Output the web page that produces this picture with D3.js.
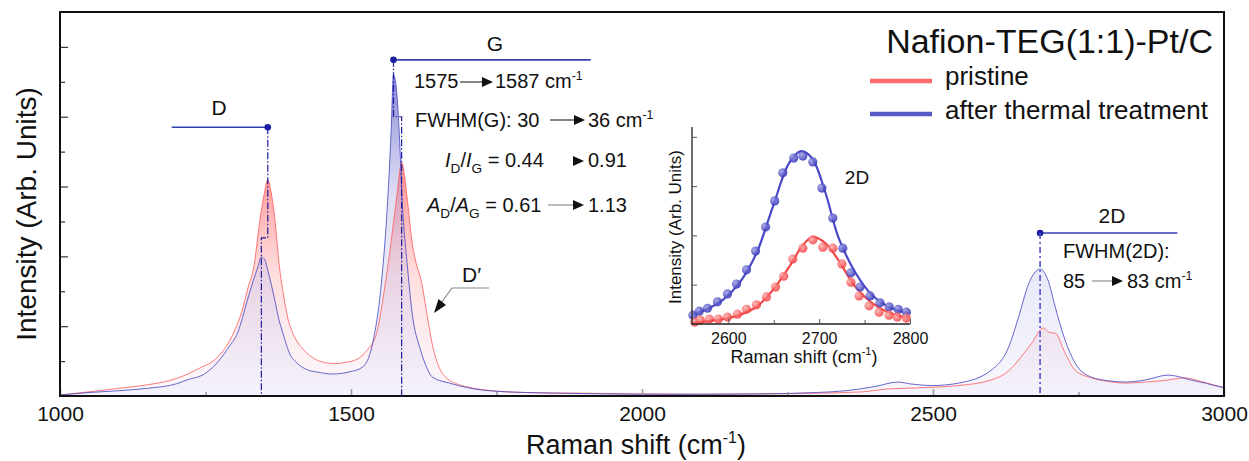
<!DOCTYPE html>
<html><head><meta charset="utf-8">
<script src="https://cdn.jsdelivr.net/npm/d3@7"></script>
<style>
body{margin:0;background:#fff}
text{font-family:"Liberation Sans",Arial,sans-serif;fill:#111}
</style></head>
<body><svg id="c" width="1249" height="461"></svg>
<script>
// ---------- DATA ----------
const pristineX = [1000,1050,1100,1150,1200,1240,1270,1295,1312,1323,1333,1344,1351,1357,1362,1369,1377,1384,1391,1400,1408,1420,1434,1458,1475,1492,1510,1527,1544,1557,1564,1571,1580,1587,1592,1597,1605,1612,1620,1630,1640,1652,1665,1680,1700,1750,1800,1900,2000,2100,2200,2300,2380,2420,2450,2500,2544,2600,2630,2647,2669,2690,2700,2710,2727,2744,2772,2800,2830,2865,2900,2933,2960,2995,3000];
const pristineY = [0.03,0.12,0.22,0.32,0.5,0.8,1.1,1.7,2.4,3.1,3.7,5.1,5.8,6.2,5.9,5.1,3.7,2.9,2.26,1.8,1.55,1.3,1.1,0.95,0.93,0.97,1.05,1.3,1.8,3.0,3.8,4.7,5.9,6.7,6.3,5.6,4.4,3.8,3.35,2.4,1.45,0.8,0.5,0.36,0.26,0.14,0.1,0.08,0.06,0.05,0.06,0.08,0.12,0.2,0.22,0.25,0.3,0.46,0.72,1.03,1.5,1.95,1.82,1.8,1.23,0.74,0.52,0.42,0.37,0.4,0.45,0.52,0.42,0.26,0.24];
const treatedX = [1000,1050,1100,1150,1200,1218,1250,1274,1290,1305,1322,1332,1340,1346,1352,1357,1363,1369,1376,1383,1395,1407,1425,1441,1468,1497,1520,1537,1552,1563,1569,1573,1578,1583,1588,1597,1606,1618,1628,1640,1669,1700,1726,1800,1900,2000,2100,2200,2300,2350,2400,2440,2460,2500,2544,2600,2630,2647,2664,2684,2698,2710,2727,2744,2772,2800,2830,2865,2904,2943,2970,2995,3000];
const treatedY = [0.03,0.1,0.15,0.22,0.35,0.46,0.65,1.03,1.4,1.8,2.75,3.3,3.7,3.98,3.9,3.6,3.2,2.75,2.2,1.8,1.2,0.95,0.75,0.69,0.63,0.69,0.83,1.5,3.2,5.6,7.6,9.2,8.8,7.5,5.6,3.7,2.26,1.4,0.9,0.54,0.37,0.24,0.17,0.1,0.07,0.05,0.05,0.06,0.1,0.15,0.27,0.4,0.35,0.3,0.37,0.74,1.4,2.26,3.2,3.64,3.3,2.55,1.6,0.95,0.54,0.44,0.4,0.46,0.6,0.46,0.36,0.26,0.25];

const xTicks = [1000,1500,2000,2500,3000];
const xMinorTicks = [1250,1750,2250,2750];
const yTicks = [2,4,6,8,10];
const yMinorTicks = [1,3,5,7,9];

// inset (2D band)
const insetTreatedPtsX = [2561,2568,2577,2588,2599,2609,2620,2630,2641,2651,2660,2672,2682,2693,2703,2715,2726,2735,2745,2756,2767,2777,2787,2796];
const insetTreatedPtsY = [0.38,0.46,0.52,0.65,0.81,1.01,1.30,1.68,2.17,2.70,3.27,3.57,3.61,3.49,2.96,2.35,1.74,1.24,0.95,0.77,0.63,0.55,0.50,0.44];
const insetPristinePtsX = [2563,2569,2579,2589,2599,2610,2620,2631,2642,2652,2661,2671,2682,2693,2704,2715,2725,2735,2744,2755,2766,2777,2786,2796];
const insetPristinePtsY = [0.24,0.28,0.30,0.30,0.34,0.40,0.50,0.59,0.75,0.95,1.17,1.52,1.74,1.91,1.76,1.74,1.42,1.05,0.77,0.57,0.44,0.38,0.34,0.32];
const insetTreatedFitX = [2560,2576,2594,2612,2631,2649,2667,2680,2692,2707,2721,2740,2758,2776,2798];
const insetTreatedFitY = [0.40,0.50,0.69,1.03,1.64,2.58,3.47,3.71,3.57,2.86,1.97,1.24,0.79,0.55,0.42];
const insetPristineFitX = [2560,2594,2612,2631,2649,2667,2682,2693,2707,2721,2740,2758,2776,2798];
const insetPristineFitY = [0.22,0.30,0.38,0.55,0.89,1.36,1.80,1.97,1.84,1.50,0.95,0.63,0.44,0.32];
const insetXTicks = [2600,2700,2800];
const insetXMinor = [2650,2750];
const insetYTicks = [1,2,3,4];

const seriesNames = ["pristine","after thermal treatment"];
const legendTitle = "Nafion-TEG(1:1)-Pt/C";

// ---------- CHART ----------
const svg = d3.select("#c");
const x = d3.scaleLinear().domain([1000,3000]).range([60,1224]);
const y = d3.scaleLinear().domain([0,11]).range([396,12]);
const zip = (a,b)=>a.map((v,i)=>[v,b[i]]);
const red = zip(pristineX,pristineY), blue = zip(treatedX,treatedY);
const fmt = d3.format("d");

const defs = svg.append("defs");
defs.append("clipPath").attr("id","plotclip").append("rect")
  .attr("x",60).attr("y",12).attr("width",1164).attr("height",384);
function lg(id,y1,stops){
  const g=defs.append("linearGradient").attr("id",id).attr("gradientUnits","userSpaceOnUse")
    .attr("x1",0).attr("x2",0).attr("y1",y1).attr("y2",y(0));
  stops.forEach(s=>g.append("stop").attr("offset",s[0]).attr("stop-color",s[1]).attr("stop-opacity",s[2]));
}
lg("gRed", y(6.2), [[0,"#ff5c5c",0.62],[0.45,"#ffa0a0",0.35],[1,"#efe6f6",0.25]]);
lg("gBlue", y(9.2), [[0,"#5050c4",0.7],[0.4,"#a0a0e2",0.32],[1,"#e6e4f8",0.3]]);
function rg(id,c0,c1){
  const g=defs.append("radialGradient").attr("id",id).attr("cx","35%").attr("cy","35%").attr("r","65%");
  g.append("stop").attr("offset",0).attr("stop-color",c0);
  g.append("stop").attr("offset",1).attr("stop-color",c1);
}
rg("dBlue","#9c9ce8","#3434b4");
rg("dRed","#ffa8a8","#f03a3a");

const plot = svg.append("g").attr("clip-path","url(#plotclip)");
const area = d3.area().x(d=>x(d[0])).y0(y(0)).y1(d=>y(d[1])).curve(d3.curveMonotoneX);
const line = d3.line().x(d=>x(d[0])).y(d=>y(d[1])).curve(d3.curveMonotoneX);
plot.append("path").attr("d",area(red)).attr("fill","url(#gRed)");
plot.append("path").attr("d",area(blue)).attr("fill","url(#gBlue)");
plot.append("path").attr("d",line(red)).attr("fill","none").attr("stroke","#ff5a5a").attr("stroke-opacity",0.8).attr("stroke-width",1);
plot.append("path").attr("d",line(blue)).attr("fill","none").attr("stroke","#4c4cc4").attr("stroke-opacity",0.85).attr("stroke-width",1);

// axes ticks
const ax = svg.append("g").attr("transform",`translate(0,${y(0)})`)
  .call(d3.axisBottom(x).tickValues(xTicks).tickFormat(fmt).tickSize(-7).tickPadding(10));
ax.select(".domain").remove();
ax.selectAll(".tick line").attr("stroke","#9a9a9a").attr("stroke-width",1.5);
ax.selectAll(".tick text").attr("font-size",21).attr("fill","#111");
const axm = svg.append("g").attr("transform",`translate(0,${y(0)})`)
  .call(d3.axisBottom(x).tickValues(xMinorTicks).tickSize(-4).tickFormat(""));
axm.select(".domain").remove();
axm.selectAll(".tick line").attr("stroke","#9a9a9a").attr("stroke-width",1.5);
const ay = svg.append("g").attr("transform",`translate(${x(1000)},0)`)
  .call(d3.axisLeft(y).tickValues(yTicks).tickSize(-8).tickFormat(""));
ay.select(".domain").remove();
ay.selectAll(".tick line").attr("stroke","#333").attr("stroke-width",1.2);
const aym = svg.append("g").attr("transform",`translate(${x(1000)},0)`)
  .call(d3.axisLeft(y).tickValues(yMinorTicks).tickSize(-5).tickFormat(""));
aym.select(".domain").remove();
aym.selectAll(".tick line").attr("stroke","#333").attr("stroke-width",1.2);

// frame
svg.append("rect").attr("x",x(1000)).attr("y",y(11)).attr("width",x(3000)-x(1000)).attr("height",y(0)-y(11))
  .attr("fill","none").attr("stroke","#111").attr("stroke-width",2);

// axis titles
const xt = svg.append("text").attr("x",636).attr("y",454).attr("text-anchor","middle").attr("font-size",27);
xt.append("tspan").text("Raman shift (cm");
xt.append("tspan").attr("font-size",16).attr("dy",-11).text("-1");
xt.append("tspan").attr("dy",11).text(")");
svg.append("text").attr("transform","translate(36,214) rotate(-90)").attr("text-anchor","middle")
  .attr("font-size",28).text("Intensity (Arb. Units)");

// ---------- annotations ----------
const navy="#1c1ca0";
function marker(px1,px2,val,dotAt){
  svg.append("line").attr("x1",x(px1)).attr("x2",x(px2)).attr("y1",y(val)).attr("y2",y(val))
    .attr("stroke","#3440b0").attr("stroke-width",1.6);
  svg.append("circle").attr("cx",x(dotAt)).attr("cy",y(val)).attr("r",3.3).attr("fill",navy);
}
// D
marker(1192,1357,7.7,1357);
svg.append("path").attr("d",`M${x(1357)},${y(7.7)}V${y(4.53)}H${x(1346)}V${y(0)}`)
  .attr("fill","none").attr("stroke",navy).attr("stroke-width",1.2).attr("stroke-dasharray","7,2,1.5,2");
svg.append("text").attr("x",219).attr("y",115).attr("text-anchor","middle").attr("font-size",21).text("D");
// G
marker(1573,1912,9.63,1573);
svg.append("path").attr("d",`M${x(1573)},${y(9.63)}V${y(8.0)}H${x(1587)}V${y(0)}`)
  .attr("fill","none").attr("stroke",navy).attr("stroke-width",1.2).attr("stroke-dasharray","7,2,1.5,2");
svg.append("text").attr("x",495).attr("y",51).attr("text-anchor","middle").attr("font-size",21).text("G");
// 2D
marker(2684,2920,4.67,2684);
svg.append("path").attr("d",`M${x(2684)},${y(4.67)}V${y(0)}`)
  .attr("fill","none").attr("stroke","#5050d0").attr("stroke-width",1.6).attr("stroke-dasharray","6,3,2,3");
svg.append("text").attr("x",1112).attr("y",223).attr("text-anchor","middle").attr("font-size",21).text("2D");

function arrow(x1,x2,yy,lineColor){
  if(lineColor) svg.append("line").attr("x1",x1).attr("x2",x2-11).attr("y1",yy).attr("y2",yy)
    .attr("stroke",lineColor).attr("stroke-width",1.1);
  svg.append("path").attr("d",`M${x2-11},${yy-5}L${x2},${yy}L${x2-11},${yy+5}Z`).attr("fill","#111");
}
function supText(xx,yy,parts,fs){
  const t=svg.append("text").attr("x",xx).attr("y",yy).attr("font-size",fs);
  parts.forEach(p=>{
    const s=t.append("tspan").text(p.t);
    if(p.sup){s.attr("font-size",fs*0.62).attr("dy",-fs*0.42);}
    if(p.sub){s.attr("font-size",fs*0.68).attr("dy",fs*0.28);}
    if(p.back) s.attr("dy",p.back);
    if(p.it) s.attr("font-style","italic");
  });
  return t;
}
const FS=20;
supText(414,88,[{t:"1575"}],FS);
arrow(460,493,82,"#222");
supText(495,88,[{t:"1587 cm"},{t:"-1",sup:true}],FS);
supText(415,127,[{t:"FWHM(G): 30"}],FS);
arrow(550,585,120,"#222");
supText(588,127,[{t:"36 cm"},{t:"-1",sup:true}],FS);
supText(445,167,[{t:"I",it:true},{t:"D",sub:true},{t:"/",back:-FS*0.28},{t:"I",it:true},{t:"G",sub:true},{t:" = 0.44",back:-FS*0.28}],FS);
arrow(573,584,161,null);
supText(588,167,[{t:"0.91"}],FS);
supText(427,212,[{t:"A",it:true},{t:"D",sub:true},{t:"/",back:-FS*0.28},{t:"A",it:true},{t:"G",sub:true},{t:" = 0.61",back:-FS*0.28}],FS);
arrow(548,584,205,"#888");
supText(588,212,[{t:"1.13"}],FS);
// 2D FWHM
supText(1063,258,[{t:"FWHM(2D):"}],FS);
supText(1063,288,[{t:"85"}],FS);
arrow(1092,1123,281,"#888");
supText(1127,288,[{t:"83 cm"},{t:"-1",sup:true}],FS);
// D'
svg.append("text").attr("x",462).attr("y",282).attr("font-size",21).text("D\u2032");
svg.append("path").attr("d","M489,288H452L441,303").attr("fill","none").attr("stroke","#888").attr("stroke-width",1.2);
svg.append("path").attr("d","M434,313L438.5,299L446,305Z").attr("fill","#111");

// ---------- legend ----------
svg.append("text").attr("x",1213).attr("y",53).attr("text-anchor","end").attr("font-size",34).text(legendTitle);
const legColors=["#ff6a6a","#5a5ac6"];
[81,114].forEach((yy,i)=>{
  svg.append("line").attr("x1",870).attr("x2",932).attr("y1",yy).attr("y2",yy)
    .attr("stroke",legColors[i]).attr("stroke-width",4.5);
  svg.append("text").attr("x",945).attr("y",yy+5+ (i?0:-1)).attr("font-size",26).text(seriesNames[i]);
});

// ---------- inset ----------
const xi = d3.scaleLinear().domain([2560,2800]).range([692,910]);
const yi = d3.scaleLinear().domain([0.2,4.2]).range([324,127]);
const ins = svg.append("g");
defs.append("clipPath").attr("id","insclip").append("rect").attr("x",692).attr("y",120).attr("width",218).attr("height",210);
const li = d3.line().x(d=>xi(d[0])).y(d=>yi(d[1])).curve(d3.curveCatmullRom);
const fitG = ins.append("g").attr("clip-path","url(#insclip)");
fitG.append("path").attr("d",li(zip(insetTreatedFitX,insetTreatedFitY))).attr("fill","none").attr("stroke","#4848c8").attr("stroke-width",2.2);
fitG.append("path").attr("d",li(zip(insetPristineFitX,insetPristineFitY))).attr("fill","none").attr("stroke","#f04848").attr("stroke-width",2.2);
ins.selectAll("circle.b").data(zip(insetTreatedPtsX,insetTreatedPtsY)).join("circle").attr("class","b")
  .attr("cx",d=>xi(d[0])).attr("cy",d=>yi(d[1])).attr("r",4.6).attr("fill","url(#dBlue)").attr("fill-opacity",0.85);
ins.selectAll("circle.r").data(zip(insetPristinePtsX,insetPristinePtsY)).join("circle").attr("class","r")
  .attr("cx",d=>xi(d[0])).attr("cy",d=>yi(d[1])).attr("r",4.6).attr("fill","url(#dRed)").attr("fill-opacity",0.8);
// inset axes
ins.append("path").attr("d",`M${xi(2560)},${yi(4.2)}V${yi(0.2)}H${xi(2800)}`).attr("fill","none").attr("stroke","#222").attr("stroke-width",1.3);
const ix = ins.append("g").attr("transform",`translate(0,${yi(0.2)})`)
  .call(d3.axisBottom(xi).tickValues(insetXTicks).tickFormat(fmt).tickSize(-5).tickPadding(9));
ix.select(".domain").remove();
ix.selectAll(".tick line").attr("stroke","#555");
ix.selectAll(".tick text").attr("font-size",16).attr("fill","#111");
const ixm = ins.append("g").attr("transform",`translate(0,${yi(0.2)})`)
  .call(d3.axisBottom(xi).tickValues(insetXMinor).tickSize(-4).tickFormat(""));
ixm.select(".domain").remove();
ixm.selectAll(".tick line").attr("stroke","#555");
const iy = ins.append("g").attr("transform",`translate(${xi(2560)},0)`)
  .call(d3.axisLeft(yi).tickValues(insetYTicks).tickSize(-5).tickFormat(""));
iy.select(".domain").remove();
iy.selectAll(".tick line").attr("stroke","#555");
const it = ins.append("text").attr("x",804).attr("y",363).attr("text-anchor","middle").attr("font-size",18);
it.append("tspan").text("Raman shift (cm");
it.append("tspan").attr("font-size",11).attr("dy",-8).text("-1");
it.append("tspan").attr("dy",8).text(")");
ins.append("text").attr("transform","translate(681,227) rotate(-90)").attr("text-anchor","middle").attr("font-size",17).text("Intensity (Arb. Units)");
ins.append("text").attr("x",857).attr("y",184).attr("text-anchor","middle").attr("font-size",19).text("2D");
</script>
</body></html>
